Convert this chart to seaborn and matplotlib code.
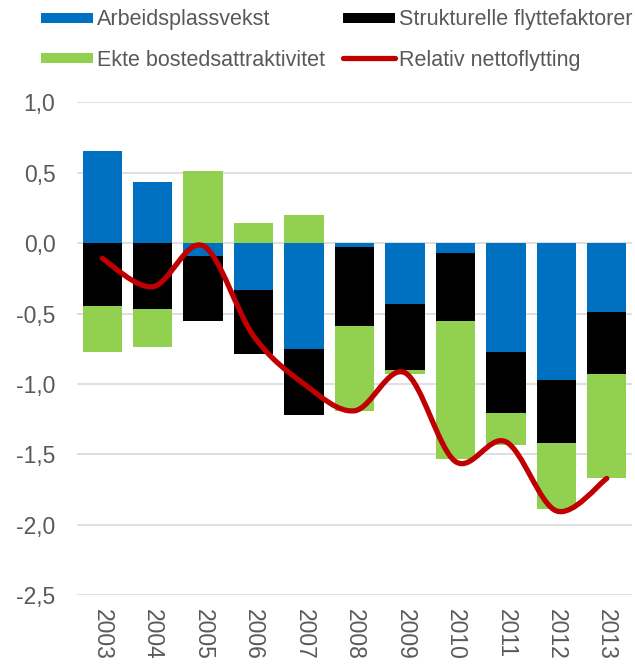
import matplotlib.pyplot as plt
import numpy as np
import pandas as pd
import seaborn as sns
from matplotlib.lines import Line2D
from matplotlib.path import Path
from matplotlib.patches import PathPatch
from matplotlib.ticker import FuncFormatter

# Data
years = ["2003", "2004", "2005", "2006", "2007", "2008", "2009", "2010", "2011", "2012", "2013"]
arbeidsplassvekst = [0.65, 0.43, -0.09, -0.33, -0.75, -0.03, -0.43, -0.07, -0.77, -0.97, -0.49]
strukturelle = [-0.45, -0.47, -0.46, -0.46, -0.47, -0.56, -0.47, -0.485, -0.435, -0.445, -0.44]
ekte_bosted = [-0.32, -0.27, 0.51, 0.145, 0.20, -0.60, -0.03, -0.98, -0.225, -0.475, -0.74]
nettoflytting = [-0.11, -0.31, -0.02, -0.66, -1.00, -1.19, -0.92, -1.55, -1.41, -1.90, -1.67]

labels = ["Arbeidsplassvekst", "Strukturelle flyttefaktorer",
          "Ekte bostedsattraktivitet", "Relativ nettoflytting"]
colors = ["#0070C0", "#000000", "#92D050", "#C00000"]

sns.set_style("white")
plt.rcParams["font.family"] = ["Liberation Sans", "DejaVu Sans"]

df = pd.DataFrame({"year": years, "a": arbeidsplassvekst,
                   "s": strukturelle, "e": ekte_bosted})

fig = plt.figure(figsize=(6.35, 6.66), dpi=100)
ax = fig.add_axes([0.1213, 0.1059, 0.8740, 0.7409])

# stack positive values upwards, negative values downwards (Excel style)
pos_base = np.zeros(len(years))
neg_base = np.zeros(len(years))
for col, color in zip(["a", "s", "e"], colors[:3]):
    vals = df[col].to_numpy()
    bottoms = np.where(vals >= 0, pos_base, neg_base)
    sns.barplot(x=df["year"], y=vals, bottom=bottoms, color=color,
                width=0.78, errorbar=None, saturation=1, linewidth=0, ax=ax)
    pos_base = pos_base + np.clip(vals, 0, None)
    neg_base = neg_base + np.clip(vals, None, 0)

# smoothed line (Catmull-Rom as Bezier segments, like Excel's smoothing)
xs = np.arange(len(years), dtype=float)
ys = np.array(nettoflytting)
verts = [(xs[0], ys[0])]
codes = [Path.MOVETO]
for i in range(len(xs) - 1):
    p0 = np.array([xs[max(i - 1, 0)], ys[max(i - 1, 0)]])
    p1 = np.array([xs[i], ys[i]])
    p2 = np.array([xs[i + 1], ys[i + 1]])
    p3 = np.array([xs[min(i + 2, len(xs) - 1)], ys[min(i + 2, len(xs) - 1)]])
    c1 = p1 + (p2 - p0) / 6
    c2 = p2 - (p3 - p1) / 6
    verts += [tuple(c1), tuple(c2), tuple(p2)]
    codes += [Path.CURVE4] * 3
ax.add_patch(PathPatch(Path(verts, codes), facecolor="none", edgecolor=colors[3],
                       lw=3.8, capstyle="round", joinstyle="round", zorder=5))

ax.set_ylim(-2.5, 1.0)
ax.set_xlim(-0.5, len(years) - 0.5)
ax.set_yticks(np.arange(-2.5, 1.01, 0.5))
ax.yaxis.set_major_formatter(FuncFormatter(lambda v, p: f"{v:.1f}".replace(".", ",")))
ax.grid(axis="y", color="#D9D9D9", lw=1.2)
ax.set_axisbelow(True)
for sp in ax.spines.values():
    sp.set_visible(False)
ax.set_xlabel("")
ax.set_ylabel("")
ax.tick_params(axis="y", length=0, pad=15.5, labelsize=16.5, labelcolor="#595959")
ax.tick_params(axis="x", length=0, pad=10, labelsize=16.5, labelcolor="#595959")
plt.setp(ax.get_xticklabels(), rotation=-90, va="top", ha="center")

handles = [
    Line2D([], [], color=colors[0], lw=7.2, solid_capstyle="butt"),
    Line2D([], [], color=colors[1], lw=7.2, solid_capstyle="butt"),
    Line2D([], [], color=colors[2], lw=7.2, solid_capstyle="butt"),
    Line2D([], [], color=colors[3], lw=3.8, solid_capstyle="round"),
]
# legend fills column-wise, so reorder to get the reference's row layout
order = [0, 2, 1, 3]
fig.legend([handles[i] for i in order], [labels[i] for i in order], ncol=2,
           loc="upper left", bbox_to_anchor=(0.0646, 0.986),
           frameon=False, fontsize=15.5, handlelength=2.42, handletextpad=0.2,
           columnspacing=0.8, labelspacing=0.9, borderpad=0, borderaxespad=0,
           labelcolor="#595959")

fig.savefig("out.png", dpi=100)
